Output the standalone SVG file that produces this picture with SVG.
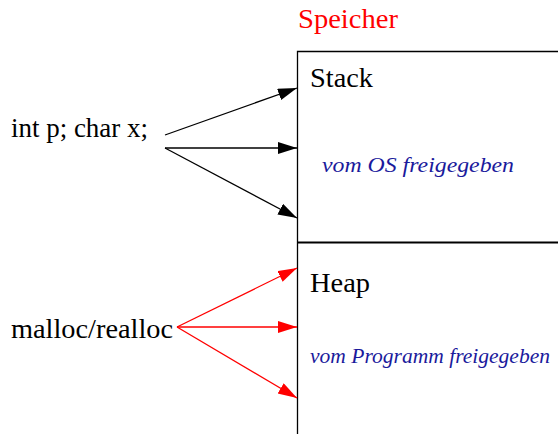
<svg xmlns="http://www.w3.org/2000/svg" width="558" height="434" viewBox="0 0 558 434">
<style>
.lbl{font-family:"Liberation Serif","Times New Roman",serif;font-size:28px;fill:#000}
.note{font-family:"Liberation Serif","Times New Roman",serif;font-style:italic;font-size:22px;fill:#1a1a9c}
.blk{stroke:#000;stroke-width:1.3;fill:none}
.red{stroke:#ff0000;stroke-width:1.3;fill:none}
</style>
<defs>
<marker id="ab" markerUnits="userSpaceOnUse" markerWidth="20" markerHeight="13" refX="19" refY="6" orient="auto"><path d="M0,0 L19,6 L0,12 Z" fill="#000"/></marker>
<marker id="ar" markerUnits="userSpaceOnUse" markerWidth="20" markerHeight="13" refX="19" refY="6" orient="auto"><path d="M0,0 L19,6 L0,12 Z" fill="#ff0000"/></marker>
</defs>
<g id="speicher">
<text x="298" y="28" class="lbl" style="fill:#ff0000" textLength="100" lengthAdjust="spacingAndGlyphs">Speicher</text>
<path d="M297.5,434 V51.5 H558" class="blk"/>
<line x1="297.5" y1="242.5" x2="558" y2="242.5" stroke="#000" stroke-width="2"/>
</g>
<g id="stack">
<text x="310" y="87" class="lbl" textLength="63" lengthAdjust="spacingAndGlyphs">Stack</text>
<text x="322" y="172" class="note" textLength="192" lengthAdjust="spacingAndGlyphs">vom OS freigegeben</text>
</g>
<g id="heap">
<text x="310" y="292" class="lbl" textLength="60" lengthAdjust="spacingAndGlyphs">Heap</text>
<text x="310" y="363" class="note" textLength="240" lengthAdjust="spacingAndGlyphs">vom Programm freigegeben</text>
</g>
<g id="vars"><text x="11" y="137" class="lbl" textLength="137" lengthAdjust="spacingAndGlyphs">int p; char x;</text></g>
<g id="malloc"><text x="11" y="338" class="lbl" textLength="162" lengthAdjust="spacingAndGlyphs">malloc/realloc</text></g>
<g id="connectors">
<line x1="165" y1="135" x2="297" y2="88" class="blk" marker-end="url(#ab)"/>
<line x1="165" y1="148" x2="297" y2="148" class="blk" marker-end="url(#ab)"/>
<line x1="165" y1="148" x2="297" y2="218" class="blk" marker-end="url(#ab)"/>
<line x1="177" y1="327" x2="297" y2="268" class="red" marker-end="url(#ar)"/>
<line x1="177" y1="327" x2="297" y2="327" class="red" marker-end="url(#ar)"/>
<line x1="177" y1="327" x2="297" y2="398" class="red" marker-end="url(#ar)"/>
</g>
</svg>
